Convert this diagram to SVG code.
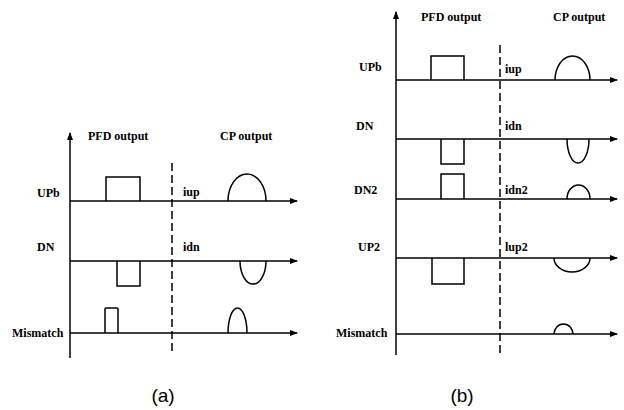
<svg xmlns="http://www.w3.org/2000/svg" width="624" height="410" viewBox="0 0 624 410">
<style>
.ln{fill:none;stroke:#000;stroke-width:1.5}
.ds{fill:none;stroke:#000;stroke-width:1.5;stroke-dasharray:8 4}
.t{font-family:"Liberation Serif","Times New Roman",serif;font-weight:bold;font-size:12px;fill:#000}
.c{font-family:"Liberation Sans",Arial,sans-serif;font-size:19px;fill:#000;text-anchor:middle}
</style>
<defs>
<marker id="ah" markerWidth="8" markerHeight="6" refX="7" refY="3" orient="auto" markerUnits="userSpaceOnUse">
<path d="M0,0 L8,3 L0,6 Z" fill="#000"/>
</marker>
</defs>
<rect width="624" height="410" fill="#fff"/>
<g id="panel-a-axes">
<path class="ln" d="M70,358 V133" marker-end="url(#ah)"/>
<path class="ln" d="M70,201 H297" marker-end="url(#ah)"/>
<path class="ln" d="M70,261 H297" marker-end="url(#ah)"/>
<path class="ln" d="M70,333 H297" marker-end="url(#ah)"/>
<path class="ds" d="M172,163 V353"/>
</g>
<g id="panel-a-waves">
<path class="ln" d="M106,201 V177 H140 V201"/>
<path class="ln" d="M117,261 V286 H140 V261"/>
<path class="ln" d="M105,333 V309 Q105,308 106,308 H117 Q118,308 118,309 V333"/>
<path class="ln" d="M228,201 A19,27 0 0 1 266,201"/>
<path class="ln" d="M240,261 A13,23 0 0 0 266,261"/>
<path class="ln" d="M228,333 A9.5,25 0 0 1 247,333"/>
</g>
<g id="panel-a-labels">
<text class="t" x="88" y="140">PFD output</text>
<text class="t" x="220" y="140">CP output</text>
<text class="t" x="37" y="197">UPb</text>
<text class="t" x="37" y="251">DN</text>
<text class="t" x="12" y="337">Mismatch</text>
<text class="t" x="183" y="196">iup</text>
<text class="t" x="183" y="251">idn</text>
<text class="c" x="163" y="402">(a)</text>
</g>
<g id="panel-b-axes">
<path class="ln" d="M396,355 V12" marker-end="url(#ah)"/>
<path class="ln" d="M396,80 H617" marker-end="url(#ah)"/>
<path class="ln" d="M396,139 H617" marker-end="url(#ah)"/>
<path class="ln" d="M396,199 H617" marker-end="url(#ah)"/>
<path class="ln" d="M396,258 H617" marker-end="url(#ah)"/>
<path class="ln" d="M396,334 H617" marker-end="url(#ah)"/>
<path class="ds" d="M500,45 V353"/>
</g>
<g id="panel-b-waves">
<path class="ln" d="M431,80 V56 H464 V80"/>
<path class="ln" d="M441,139 V164 H464 V139"/>
<path class="ln" d="M441,199 V174 H464 V199"/>
<path class="ln" d="M432,258 V284 H464 V258"/>
<path class="ln" d="M555,80 A17.5,24 0 0 1 590,80"/>
<path class="ln" d="M567,139 A11,24 0 0 0 589,139"/>
<path class="ln" d="M567,199 A11.5,14 0 0 1 590,199"/>
<path class="ln" d="M554,258 A18,14 0 0 0 590,258"/>
<path class="ln" d="M554,334 A9.5,10 0 0 1 573,334"/>
</g>
<g id="panel-b-labels">
<text class="t" x="421" y="21">PFD output</text>
<text class="t" x="553" y="21">CP output</text>
<text class="t" x="359" y="71">UPb</text>
<text class="t" x="356" y="130">DN</text>
<text class="t" x="354" y="194">DN2</text>
<text class="t" x="358" y="251">UP2</text>
<text class="t" x="336" y="337">Mismatch</text>
<text class="t" x="505" y="73">iup</text>
<text class="t" x="505" y="130">idn</text>
<text class="t" x="505" y="194">idn2</text>
<text class="t" x="505" y="251">lup2</text>
<text class="c" x="462" y="402">(b)</text>
</g>
</svg>
